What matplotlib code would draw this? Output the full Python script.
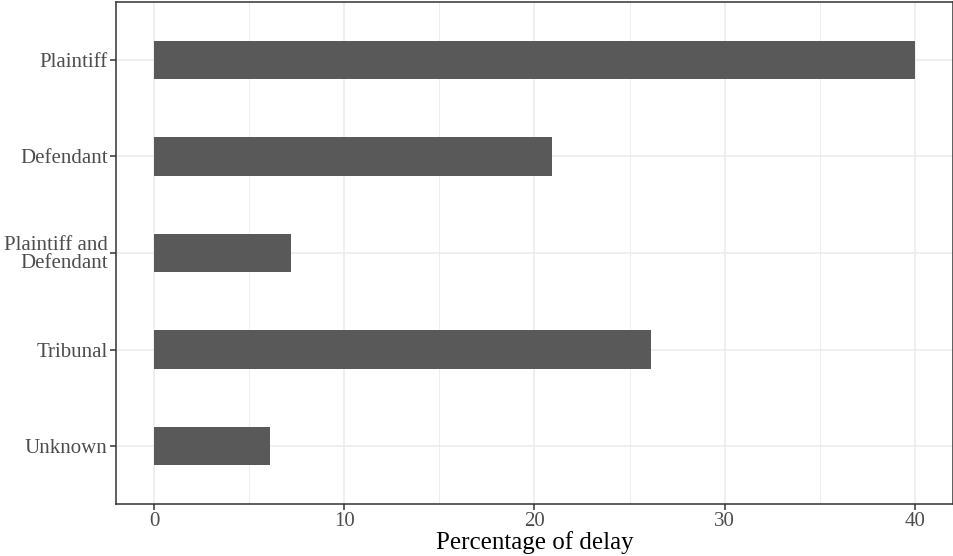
import numpy as np
import matplotlib
matplotlib.use("Agg")
import matplotlib.pyplot as plt
from matplotlib.ticker import MultipleLocator

# who caused the delay, share in percent
categories = ["Plaintiff", "Defendant", "Plaintiff and\nDefendant", "Tribunal", "Unknown"]
delay_pct = [40.0, 20.9, 7.2, 26.1, 6.1]
x_ticks = [0, 10, 20, 30, 40]

plt.rcParams['font.family'] = ['Liberation Serif', 'DejaVu Serif']

fig = plt.figure(figsize=(9.54, 5.56), dpi=100)
ax = fig.add_axes([116 / 954, 52 / 556, 837 / 954, 502 / 556])

ypos = np.arange(len(categories))
ax.barh(ypos, delay_pct, height=0.4, color="#595959", zorder=3)

ax.set_xlim(-2, 42)
ax.set_ylim(len(categories) - 0.4, -0.6)
ax.set_xticks(x_ticks)
ax.set_xticklabels([str(t) for t in x_ticks])
ax.xaxis.set_minor_locator(MultipleLocator(5))
ax.set_yticks(ypos)
ax.set_yticklabels(categories, linespacing=0.9)

# theme_bw look
ax.grid(True, which="major", color="#EBEBEB", lw=1.1, zorder=0)
ax.grid(True, which="minor", axis="x", color="#EBEBEB", lw=0.6, zorder=0)
for s in ax.spines.values():
    s.set_color("#333333")
    s.set_linewidth(1.1)
ax.tick_params(axis="both", which="major", length=4, width=1.1, color="#333333",
               labelsize=15, labelcolor="#4D4D4D", pad=2)
ax.tick_params(axis="x", which="minor", length=0)
ax.set_xlabel("Percentage of delay", fontsize=18, labelpad=0)

fig.savefig("out.png", dpi=100)
